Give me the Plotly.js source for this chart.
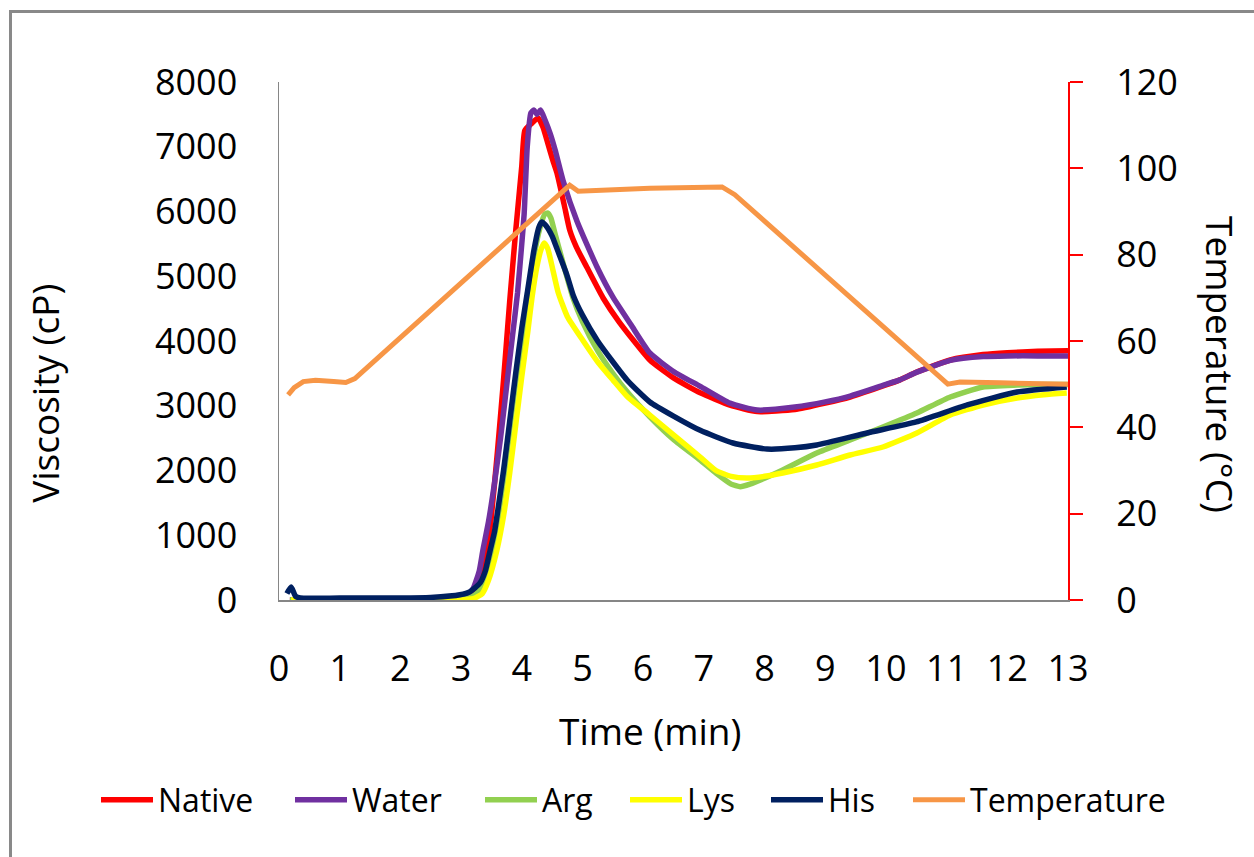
<!DOCTYPE html>
<html>
<head>
<meta charset="utf-8">
<script src="https://cdn.plot.ly/plotly-3.0.1.min.js"></script>
<style>
html,body{margin:0;padding:0;background:#fff;}
#chart{width:1254px;height:857px;}
</style>
</head>
<body>
<div id="chart"></div>
<script>
// ---- Data ----
const seriesNames = ["Native", "Water", "Arg", "Lys", "His", "Temperature"];
const xTicks = [0,1,2,3,4,5,6,7,8,9,10,11,12,13];

const tNative = [0.18,0.3,1,2,2.8,3.0,3.1,3.2,3.3,3.4,3.5,3.6,3.7,3.8,3.9,4.0,4.05,4.15,4.27,4.35,4.43,4.51,4.58,4.7,4.79,4.9,5.07,5.34,5.6,6.11,6.5,6.94,7.43,7.88,8.5,9.0,9.41,10.0,10.23,10.51,11.06,11.6,12.0,12.5,13.0];
const vNative = [0,0,0,0,0,10,30,80,180,550,1300,2300,3400,4600,5700,6700,7250,7350,7444,7300,7050,6795,6594,6100,5714,5450,5143,4664,4300,3707,3430,3200,3010,2910,2940,3040,3135,3320,3400,3521,3707,3790,3820,3840,3850];

const tWater = [0.18,0.3,1,2,2.8,3.0,3.1,3.2,3.3,3.36,3.45,3.55,3.65,3.75,3.85,3.93,4.0,4.04,4.09,4.15,4.2,4.25,4.31,4.38,4.47,4.55,4.68,4.91,5.24,5.5,5.8,6.11,6.5,6.94,7.43,7.88,8.5,9.0,9.41,10.0,10.23,10.51,11.06,11.6,12.0,12.5,13.0];
const vWater = [0,0,0,0,10,30,80,180,450,772,1200,1800,2500,3300,4100,4741,5500,5977,6996,7521,7568,7500,7568,7420,7200,6950,6480,5850,5143,4680,4250,3815,3530,3300,3040,2934,2980,3060,3150,3330,3400,3520,3700,3760,3770,3770,3768];

const tArg = [0.18,0.3,1,2,2.9,3.1,3.2,3.3,3.4,3.5,3.6,3.7,3.8,3.9,4.0,4.1,4.2,4.3,4.38,4.43,4.48,4.55,4.68,4.85,5.0,5.25,5.5,5.75,6.11,6.5,6.94,7.2,7.45,7.6,7.76,8.0,8.3,8.86,9.41,9.95,10.51,11.06,11.6,12.16,12.6,13.0];
const vArg = [0,0,0,0,0,20,60,150,350,700,1200,1850,2600,3350,3900,4600,5300,5750,5960,5977,5900,5650,5205,4650,4300,3850,3500,3200,2830,2480,2160,1960,1790,1750,1790,1880,2008,2270,2471,2672,2888,3135,3290,3320,3330,3330];

const tLys = [0.2,0.3,1,2,3.0,3.2,3.35,3.45,3.59,3.7,3.8,3.9,4.0,4.1,4.17,4.25,4.32,4.37,4.43,4.5,4.6,4.75,5.0,5.25,5.5,5.75,6.11,6.5,6.94,7.2,7.45,7.71,8.0,8.3,8.86,9.41,9.95,10.51,11.06,11.6,12.16,12.6,12.98];
const vLys = [0,0,0,0,0,20,100,300,772,1300,1950,2700,3450,4150,4680,5150,5420,5514,5420,5150,4750,4380,4020,3680,3400,3130,2857,2550,2208,2000,1910,1884,1910,1961,2085,2239,2363,2580,2857,3012,3120,3170,3197];

const tHis = [0.13,0.2,0.27,0.35,1,2,2.5,2.98,3.15,3.31,3.4,3.48,3.55,3.6,3.7,3.8,3.9,4.0,4.09,4.2,4.28,4.33,4.4,4.5,4.57,4.74,4.85,5.0,5.25,5.5,5.75,6.11,6.5,6.94,7.48,8.04,8.5,8.86,9.69,10.5,11.34,12.16,12.98];
const vHis = [100,200,60,30,30,30,40,80,130,260,450,772,1050,1350,2000,2750,3500,4200,4741,5400,5750,5838,5780,5620,5450,5030,4700,4400,4000,3680,3380,3058,2840,2620,2425,2332,2350,2394,2580,2750,3012,3212,3290];

const tTemp = [0.15,0.25,0.4,0.6,0.9,1.1,1.25,1.4,1.6,4.79,4.93,6.11,7.30,7.51,11.02,11.22,11.88,13.0];
const vTemp = [47.5,49.2,50.6,50.9,50.6,50.4,51.3,53.2,56.0,96.1,94.7,95.4,95.7,93.9,50.0,50.5,50.3,50.0];

const colors = ["#FF0000", "#7030A0", "#92D050", "#FFFF00", "#002060", "#F79646"];

const FONT = "Open Sans, Noto Sans, sans-serif";
const legendIds = ["legend", "legend2", "legend3", "legend4", "legend5", "legend6"];

function visTrace(i, t, v) {
  return {
    type: "scatter", mode: "lines", name: seriesNames[i], x: t, y: v,
    line: {color: colors[i], width: 5.5, shape: "spline", smoothing: 0.5},
    xaxis: "x", yaxis: "y", hoverinfo: "skip", legend: legendIds[i]
  };
}

const traces = [
  visTrace(0, tNative, vNative),
  visTrace(1, tWater, vWater),
  visTrace(2, tArg, vArg),
  visTrace(3, tLys, vLys),
  visTrace(4, tHis, vHis),
  {
    type: "scatter", mode: "lines", name: seriesNames[5], x: tTemp, y: vTemp,
    line: {color: colors[5], width: 5, shape: "linear"},
    xaxis: "x", yaxis: "y2", hoverinfo: "skip", legend: legendIds[5]
  }
];

// plot area in pixels: x 279..1068, y 82..600
const PL = 279, PW = 789, PB = 600, PH = 518;
const legendLineStart = [101, 295, 485, 630, 771, 913];
function mkLegend(px) {
  return {
    orientation: "h", x: (px - 5 - PL) / PW, xanchor: "left",
    y: (PB - 800) / PH, yanchor: "middle",
    font: {family: FONT, size: 32, color: "#000"},
    itemwidth: 52, bgcolor: "rgba(0,0,0,0)", borderwidth: 0
  };
}

const layout = {
  width: 1254, height: 857,
  margin: {l: 279, r: 186, t: 82, b: 257, pad: 0},
  paper_bgcolor: "#ffffff", plot_bgcolor: "#ffffff",
  font: {family: FONT, color: "#000000", size: 36},
  showlegend: true,
  xaxis: {
    range: [0, 13], tickvals: xTicks, ticktext: xTicks.map(String),
    showline: true, linecolor: "#868686", linewidth: 1.5,
    showgrid: false, zeroline: false, ticks: "",
    tickfont: {family: FONT, size: 36, color: "#000"},
    ticklabelstandoff: 36, fixedrange: true
  },
  yaxis: {
    range: [0, 8000], dtick: 1000, tick0: 0,
    showline: true, linecolor: "#868686", linewidth: 1.5,
    showgrid: false, zeroline: false, ticks: "",
    tickfont: {family: FONT, size: 36, color: "#000"},
    ticklabelstandoff: 33, fixedrange: true
  },
  yaxis2: {
    range: [0, 120], dtick: 20, tick0: 0,
    overlaying: "y", side: "right", anchor: "x",
    showline: true, linecolor: "#FF0000", linewidth: 2,
    ticks: "outside", ticklen: 13, tickwidth: 2, tickcolor: "#FF0000",
    showgrid: false, zeroline: false,
    tickfont: {family: FONT, size: 36, color: "#000"},
    ticklabelstandoff: 26, fixedrange: true
  },
  annotations: [
    {text: "Viscosity (cP)", xref: "paper", yref: "paper", x: -0.2966, y: 0.40, textangle: -90,
     showarrow: false, xanchor: "center", yanchor: "middle", font: {family: FONT, size: 37, color: "#000"}},
    {text: "Temperature (°C)", xref: "paper", yref: "paper", x: 1.1926, y: 0.4537, textangle: 90,
     showarrow: false, xanchor: "center", yanchor: "middle", font: {family: FONT, size: 37, color: "#000"}},
    {text: "Time (min)", xref: "paper", yref: "paper", x: 0.4702, y: -0.251,
     showarrow: false, xanchor: "center", yanchor: "middle", font: {family: FONT, size: 37, color: "#000"}}
  ],
  shapes: [
    {type: "rect", xref: "paper", yref: "paper", x0: -0.3403, x1: 1.3, y0: -0.6, y1: 1.1361,
     line: {color: "#898989", width: 3}, fillcolor: "rgba(0,0,0,0)", layer: "below"}
  ]
};
legendIds.forEach((id, i) => { layout[id] = mkLegend(legendLineStart[i]); });

Plotly.newPlot("chart", traces, layout, {staticPlot: true, displayModeBar: false});
</script>
</body>
</html>
